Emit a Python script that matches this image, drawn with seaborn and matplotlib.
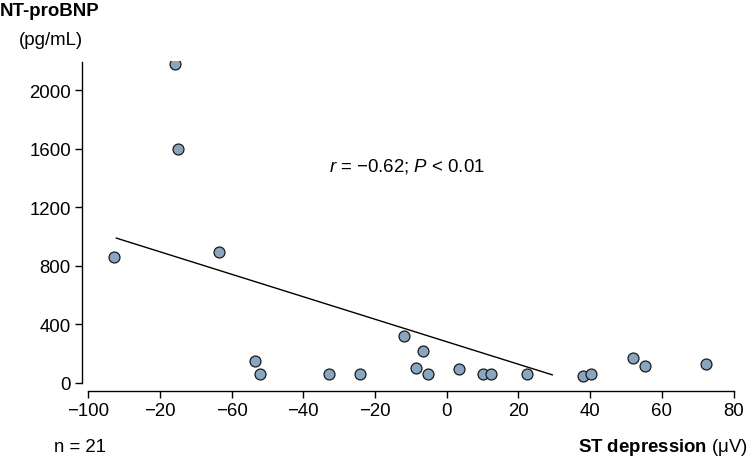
import numpy as np
import pandas as pd
import matplotlib
matplotlib.use("Agg")
import matplotlib.pyplot as plt
import seaborn as sns

# Data
st_depression = [-92.8, -75.8, -74.9, -63.6, -53.6, -52.2, -32.9, -24.2, -11.8, -8.6,
                 -6.7, -5.3, 3.3, 10.0, 12.3, 22.3, 37.9, 40.2, 51.9, 55.4, 72.3]
nt_probnp = [859, 2179, 1600, 894, 153, 59, 59, 59, 319, 100,
             217, 59, 94, 59, 59, 59, 50, 59, 169, 116, 128]
fit_x = [-92.2, 29.5]
fit_y = [991, 55]
x_ticks = [-100, -80, -60, -40, -20, 0, 20, 40, 60, 80]
x_tick_labels = ["\u2212100", "\u221220", "\u221260", "\u221240", "\u221220", "0", "20", "40", "60", "80"]
y_ticks = [0, 400, 800, 1200, 1600, 2000]

data = pd.DataFrame({"st": st_depression, "bnp": nt_probnp})
fit = pd.DataFrame({"x": fit_x, "y": fit_y})

sns.set_style("ticks")
plt.rcParams["font.family"] = ["Liberation Sans", "DejaVu Sans"]
plt.rcParams["mathtext.fontset"] = "custom"
plt.rcParams["mathtext.rm"] = "Liberation Sans"
plt.rcParams["mathtext.it"] = "Liberation Sans:italic"
plt.rcParams["mathtext.bf"] = "Liberation Sans:bold"
plt.rcParams["text.color"] = "black"
plt.rcParams["xtick.color"] = "black"
plt.rcParams["ytick.color"] = "black"

fs = 13.4

fig = plt.figure(figsize=(7.49, 4.60), dpi=100)
ax = fig.add_axes([0.1095, 0.1478, 0.8795, 0.717])

sns.lineplot(data=fit, x="x", y="y", color="black", linewidth=1.0, ax=ax)
sns.scatterplot(data=data, x="st", y="bnp", s=62, color="#8aa5bf",
                edgecolor="#1a1a1a", linewidth=0.9, ax=ax, zorder=3)

ax.set_xlim(-101.7, 82)
ax.set_ylim(-55, 2200)
ax.set_xticks(x_ticks)
ax.set_xticklabels(x_tick_labels)
ax.set_yticks(y_ticks)
ax.tick_params(labelsize=fs, width=1, length=5, color="black", labelcolor="black", pad=3)
ax.set_xlabel("")
ax.set_ylabel("")

for side in ["top", "right"]:
    ax.spines[side].set_visible(False)
ax.spines["left"].set_bounds(0, 2195)
ax.spines["bottom"].set_bounds(-100, 80)
for side in ["left", "bottom"]:
    ax.spines[side].set_linewidth(1.0)
    ax.spines[side].set_color("black")

ax.text(-11, 1484, "$r$ = \u22120.62; $P$ < 0.01",
        fontsize=fs, ha="center", va="center")

fig.text(0.0, 0.974, "NT-proBNP", fontsize=fs, fontweight="bold", ha="left", va="center")
fig.text(0.068, 0.911, "(pg/mL)", fontsize=fs, ha="center", va="center")
fig.text(0.107, 0.028, "n = 21", fontsize=fs, ha="center", va="center")
fig.text(0.999, 0.028, r"$\mathbf{ST\ depression}$ (" + "\u03bc" + "V)",
         fontsize=fs, ha="right", va="center")

fig.savefig("out.png", dpi=100)
